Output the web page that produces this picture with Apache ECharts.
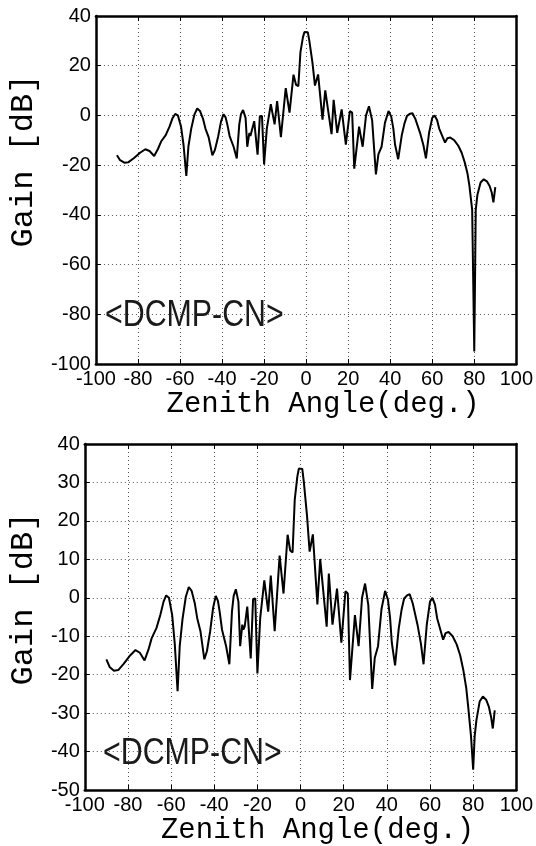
<!DOCTYPE html>
<html><head><meta charset="utf-8">
<script src="https://cdn.jsdelivr.net/npm/echarts@6/dist/echarts.min.js"></script>
<style>html,body{margin:0;padding:0;background:#fff}#c{width:536px;height:846px}</style>
</head><body><div id="c"></div>
<script>
// Zenith angle samples (deg.)
const angles = [
  -90, -88.5, -86.5, -84.5, -82, -79, -76.5, -74.5, -72.3, -70.5,
  -69, -66.8, -65, -63.5, -62.3, -61, -59.5, -58.3, -57, -56,
  -54.7, -53.2, -51.8, -50.5, -49, -47.9, -46.4, -44.6, -43.4, -41.9,
  -40.5, -39.3, -38.3, -37.5, -36.4, -35.5, -34.5, -33, -31.8, -31,
  -30, -28.8, -28, -27, -26.5, -25.9, -24.7, -23.1, -22, -21,
  -20, -18.7, -16.8, -15, -13.8, -13, -12, -9.7, -9, -7.9,
  -6, -4.8, -3.7, -2.7, -1.5, -0.8, 0, 0.8, 1.5, 3,
  4.2, 5.7, 7.8, 9.1, 9.8, 12.1, 13.1, 13.9, 14.8, 16.9,
  18.9, 20.8, 21.9, 22.9, 25.2, 26.9, 28.5, 29.9, 31.4, 33.2,
  34.4, 35.9, 37.5, 39.2, 40.5, 41.5, 42.3, 43.8, 45.5, 46.8,
  48, 49.5, 50.6, 52, 54.2, 55.8, 57, 58.5, 60, 61.1,
  62.3, 63.3, 66.1, 67.2, 68.6, 70.5, 72.4, 74, 75.5, 76.8,
  77.7, 79, 80, 80.7, 81.5, 83, 84.5, 86, 87.3, 88.3,
  89.1, 90
];
// Gain [dB], upper panel
const gainTop = [
  -16.0, -18.0, -19.0, -18.8, -17.2, -15.0, -13.6, -14.3, -16.3, -13.5,
  -10.5, -7.9, -4.5, -1.0, 0.6, 0.0, -4.5, -12.0, -24.3, -12.5,
  -5.5, 0.2, 2.8, 1.8, -1.5, -5.3, -8.7, -16.0, -13.9, -8.7,
  -2.5, 0.5, -0.8, -3.6, -8.3, -8.7, -12.6, -17.3, -3.6, 0.5,
  2.2, -1.0, -12.6, -7.0, -8.3, -7.5, -2.3, -15.8, -0.3, -0.2,
  -19.7, -5.3, 4.5, -3.6, 5.8, 5.8, -8.7, 11.0, 11.1, 1.1,
  16.4, 12.3, 11.8, 25.5, 31.5, 33.6, 34.1, 33.5, 30.2, 21.3,
  12.0, 16.5, -1.7, 10.1, 9.7, -7.5, 6.3, 5.8, -7.0, 2.4,
  -11.7, 1.7, 1.1, -21.4, -4.5, -12.6, 0.0, 3.7, -1.9, -23.7,
  -15.6, -12.6, -3.0, 1.8, -0.5, -5.3, -11.7, -17.6, -8.0, -3.2,
  -0.2, 0.7, 0.9, -1.5, -7.0, -12.0, -17.3, -7.0, -1.0, 0.0,
  -1.8, -5.3, -10.9, -9.2, -8.9, -10.0, -12.2, -15.0, -19.0, -23.5,
  -28.4, -38.0, -95.0, -38.0, -31.9, -27.0, -25.7, -26.5, -28.4, -31.0,
  -35.0, -28.8
];
// Gain [dB], lower panel
const gainBottom = [
  -16.0, -18.0, -19.0, -18.8, -17.2, -15.0, -13.6, -14.3, -16.3, -13.5,
  -10.5, -7.9, -4.5, -1.0, 0.6, 0.0, -4.5, -12.0, -24.3, -12.5,
  -5.5, 0.2, 2.8, 1.8, -1.5, -5.3, -8.7, -16.0, -13.9, -8.7,
  -2.5, 0.5, -0.8, -3.6, -8.3, -8.7, -12.6, -17.3, -3.6, 0.5,
  2.2, -1.0, -12.6, -7.0, -8.3, -7.5, -2.3, -15.8, -0.3, -0.2,
  -19.7, -5.3, 4.5, -3.6, 5.8, 5.8, -8.7, 11.0, 11.1, 1.1,
  16.4, 12.3, 11.8, 25.5, 31.5, 33.6, 34.1, 33.5, 30.2, 21.3,
  12.0, 16.5, -1.7, 10.1, 9.7, -7.5, 6.3, 5.8, -7.0, 2.4,
  -11.7, 1.7, 1.1, -21.4, -4.5, -12.6, 0.0, 3.7, -1.9, -23.7,
  -15.6, -12.6, -3.0, 1.8, -0.5, -5.3, -11.7, -17.6, -8.0, -3.2,
  -0.2, 0.7, 0.9, -1.5, -7.0, -12.0, -17.3, -7.0, -1.0, 0.0,
  -1.8, -5.3, -10.9, -9.2, -8.9, -10.0, -12.2, -15.0, -19.0, -23.5,
  -28.4, -36.0, -44.7, -36.0, -31.9, -27.0, -25.7, -26.5, -28.4, -31.0,
  -34.0, -29.3
];
const xRange = [-100, 100, 20];
const yRangeTop = [-100, 40, 20];
const yRangeBottom = [-50, 40, 10];
const xName = 'Zenith Angle(deg.)';
const yName = 'Gain [dB]';
const annotation = '<DCMP-CN>';

const chart = echarts.init(document.getElementById('c'));
const labelFont = { color: '#000', fontSize: 20, fontFamily: 'Liberation Sans' };
const splitStyle = { show: true, lineStyle: { color: '#555', width: 1, type: [1, 3] } };
const boxLine = { show: true, onZero: false, lineStyle: { color: '#000', width: 2.5 } };
const tickIn = { show: true, inside: true, length: 5, lineStyle: { color: '#000', width: 1 } };

function xAxes(gi) {
  return [{
    gridIndex: gi, type: 'value', position: 'bottom', min: xRange[0], max: xRange[1], interval: xRange[2],
    axisLine: boxLine, axisTick: tickIn,
    axisLabel: Object.assign({ margin: 5, showMinLabel: true, showMaxLabel: true }, labelFont),
    splitLine: splitStyle,
    name: xName, nameLocation: 'middle', nameGap: 26,
    nameTextStyle: { fontFamily: 'Liberation Mono', fontSize: 29, color: '#000', padding: [0, 0, 0, 34] }
  }, {
    gridIndex: gi, type: 'value', position: 'top', min: xRange[0], max: xRange[1], interval: xRange[2],
    axisLine: boxLine, axisTick: tickIn, axisLabel: { show: false }, splitLine: { show: false }
  }];
}
function yAxes(gi, r, padShift) {
  return [{
    gridIndex: gi, type: 'value', position: 'left', min: r[0], max: r[1], interval: r[2],
    axisLine: boxLine, axisTick: tickIn,
    axisLabel: Object.assign({ margin: 5, showMinLabel: true, showMaxLabel: true }, labelFont),
    splitLine: splitStyle,
    name: yName, nameLocation: 'middle', nameGap: 40,
    nameTextStyle: { fontFamily: 'Liberation Mono', fontSize: 32, color: '#000', padding: [0, 0, 0, padShift] }
  }, {
    gridIndex: gi, type: 'value', position: 'right', min: r[0], max: r[1], interval: r[2],
    axisLine: boxLine, axisTick: tickIn, axisLabel: { show: false }, splitLine: { show: false }
  }];
}
function series(xi, yi, g) {
  return {
    type: 'line', xAxisIndex: xi, yAxisIndex: yi,
    data: angles.map((a, i) => [a, g[i]]),
    showSymbol: false, symbol: 'none', smooth: false, clip: true,
    lineStyle: { color: '#000', width: 2 }, z: 5
  };
}

chart.setOption({
  animation: false,
  backgroundColor: '#fff',
  grid: [
    { left: 77, right: 17, top: 16, height: 348 },
    { left: 77, right: 17, top: 444, height: 349 }
  ],
  xAxis: xAxes(0).concat(xAxes(1)),
  yAxis: yAxes(0, yRangeTop, 58).concat(yAxes(1, yRangeBottom, 36)),
  series: [series(0, 0, gainTop), series(2, 2, gainBottom)],
  graphic: [
    { type: 'text', x: 105, y: 316, scaleX: 0.82, z: 10,
      style: { text: annotation, font: '37px "Liberation Sans"', fill: '#1a1a1a', align: 'left', verticalAlign: 'middle' } },
    { type: 'text', x: 103, y: 754, scaleX: 0.82, z: 10,
      style: { text: annotation, font: '37px "Liberation Sans"', fill: '#1a1a1a', align: 'left', verticalAlign: 'middle' } }
  ]
});
</script></body></html>
